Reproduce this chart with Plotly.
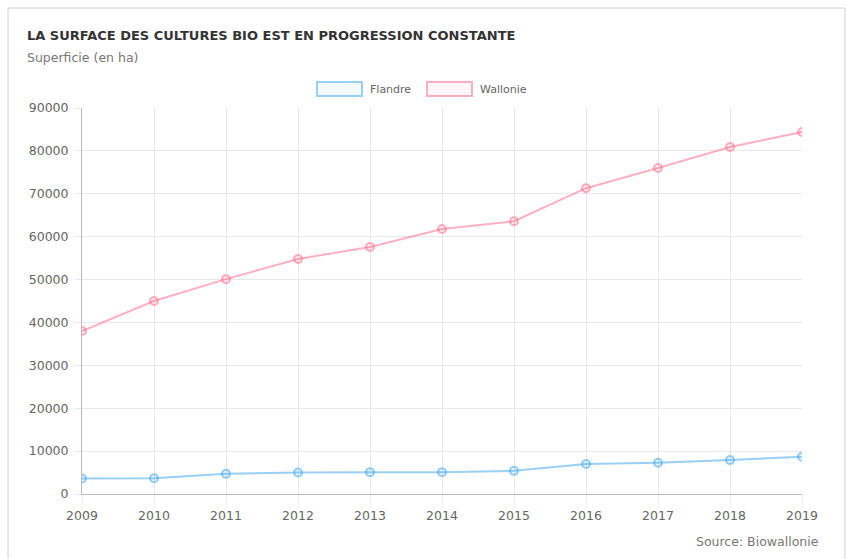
import plotly.graph_objects as go

years = [2009, 2010, 2011, 2012, 2013, 2014, 2015, 2016, 2017, 2018, 2019]
flandre = [3600, 3700, 4700, 5000, 5100, 5100, 5400, 7000, 7300, 7900, 8700]
wallonie = [38000, 45000, 50100, 54800, 57600, 61800, 63600, 71300, 76000, 80900, 84400]
y_ticks = [0, 10000, 20000, 30000, 40000, 50000, 60000, 70000, 80000, 90000]

blue = "rgba(54,162,235,0.5)"
pink = "rgba(255,99,132,0.5)"
FONT = "DejaVu Sans, sans-serif"

fig = go.Figure()
fig.add_trace(go.Scatter(x=years, y=flandre, mode="lines+markers", name="Flandre",
                         line=dict(color=blue, width=2),
                         marker=dict(size=8, color="rgba(54,162,235,0.12)", line=dict(color=blue, width=2))))
fig.add_trace(go.Scatter(x=years, y=wallonie, mode="lines+markers", name="Wallonie",
                         line=dict(color=pink, width=2),
                         marker=dict(size=8, color="rgba(255,99,132,0.12)", line=dict(color=pink, width=2))))

W, H = 846, 559
L, R, T, B = 82, 44, 108, 65

def pxp(x):
    return (x - L) / (W - L - R)
def pyp(y):
    return (H - B - y) / (H - T - B)

fig.update_layout(
    width=W, height=H,
    margin=dict(l=L, r=R, t=T, b=B),
    paper_bgcolor="white", plot_bgcolor="white",
    showlegend=False,
    font=dict(family=FONT, color="#666"),
    xaxis=dict(range=[2009, 2019], tickvals=years, ticktext=[str(y) for y in years],
               showgrid=True, gridcolor="#e8e8e8", gridwidth=1,
               showline=True, linecolor="#bbb", linewidth=1,
               ticks="outside", ticklen=6, tickcolor="#e8e8e8", ticklabelstandoff=4,
               tickfont=dict(size=12.5, color="#666", family=FONT), zeroline=False),
    yaxis=dict(range=[0, 90000], tickvals=y_ticks, ticktext=[str(v) for v in y_ticks],
               showgrid=True, gridcolor="#e8e8e8", gridwidth=1,
               showline=True, linecolor="#bbb", linewidth=1,
               ticks="outside", ticklen=6, tickcolor="#e8e8e8", ticklabelstandoff=4,
               tickfont=dict(size=12.5, color="#666", family=FONT), zeroline=False),
)

# card border
fig.add_shape(type="rect", xref="paper", yref="paper",
              x0=pxp(8), x1=pxp(W - 1), y0=pyp(H + 5), y1=pyp(8),
              line=dict(color="#d0d0d0", width=1), fillcolor="rgba(0,0,0,0)", layer="below")

fig.add_annotation(text="<b>LA SURFACE DES CULTURES BIO EST EN PROGRESSION CONSTANTE</b>",
                   xref="paper", yref="paper", x=pxp(25), y=pyp(35), xanchor="left", yanchor="middle",
                   showarrow=False, font=dict(size=13, color="#333", family=FONT))
fig.add_annotation(text="Superficie (en ha)", xref="paper", yref="paper", x=pxp(25), y=pyp(58),
                   xanchor="left", yanchor="middle", showarrow=False, font=dict(size=12.5, color="#777", family=FONT))
fig.add_annotation(text="Source: Biowallonie", xref="paper", yref="paper", x=pxp(821), y=pyp(541),
                   xanchor="right", yanchor="middle", showarrow=False, font=dict(size=12.5, color="#777", family=FONT))

# legend boxes
legend = [("Flandre", blue, "rgba(54,162,235,0.05)", 317), ("Wallonie", pink, "rgba(255,99,132,0.05)", 427)]
for name, c, f, x0 in legend:
    fig.add_shape(type="rect", xref="paper", yref="paper",
                  x0=pxp(x0), x1=pxp(x0 + 45), y0=pyp(96), y1=pyp(82),
                  line=dict(color=c, width=2), fillcolor=f)
    fig.add_annotation(text=name, xref="paper", yref="paper", x=pxp(x0 + 51), y=pyp(89),
                       xanchor="left", yanchor="middle", showarrow=False, font=dict(size=11, color="#666", family=FONT))

fig.write_html("out.html")
